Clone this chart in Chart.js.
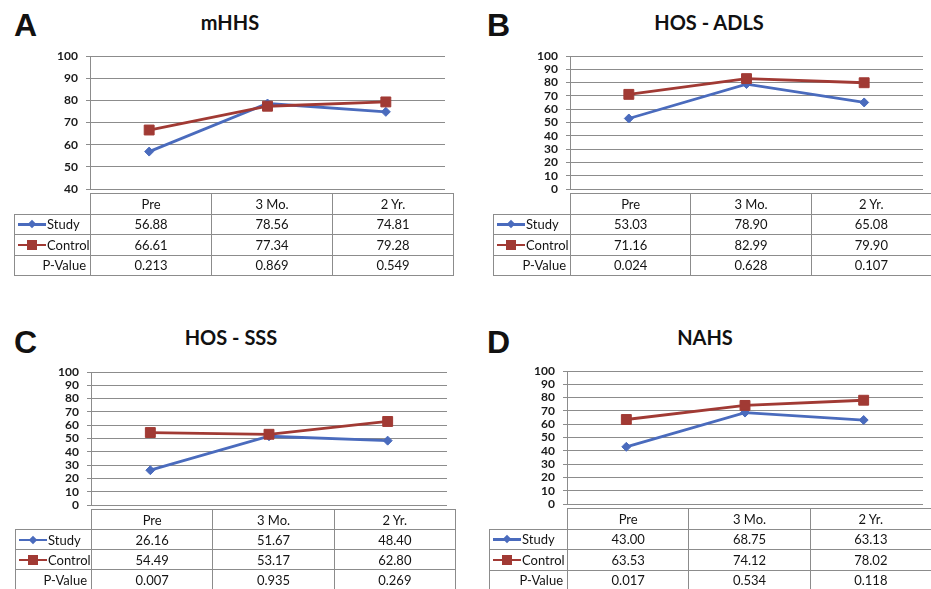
<!DOCTYPE html>
<html>
<head>
<meta charset="utf-8">
<script src="https://cdn.jsdelivr.net/npm/chart.js@4"></script>
<style>
  html, body { margin: 0; padding: 0; background: #fff; }
  #page { position: relative; width: 931px; height: 589px; overflow: hidden; font-family: Lato, "Open Sans", sans-serif; color: #141414; }
  .letter { position: absolute; font: bold 32px "Liberation Sans", Arial, sans-serif; line-height: 32px; color: #111; }
  .title { position: absolute; font: bold 20px Lato, sans-serif; line-height: 20px; color: #111; text-align: center; white-space: nowrap; }
  canvas { position: absolute; }
  .cell { position: absolute; box-sizing: border-box; border: 1px solid #8c8c8c; font-size: 13px; display: flex; align-items: center; justify-content: center; white-space: nowrap; }
  .cell.name { justify-content: flex-start; padding-left: 3px; }
  .cell.pv { justify-content: flex-end; padding-right: 4px; }
  .key { position: relative; display: inline-block; width: 28px; height: 10px; margin-right: 1px; }
  .key .ln { position: absolute; left: 0; right: 0; top: 4px; height: 2.5px; }
  .key .mk { position: absolute; }
</style>
</head>
<body>
<div id="page"></div>
<script>
// categories and series names
const categories = ['Pre', '3 Mo.', '2 Yr.'];
const seriesNames = ['Study', 'Control'];

// mHHS
const mhhsStudy = [56.88, 78.56, 74.81];
const mhhsControl = [66.61, 77.34, 79.28];
const mhhsP = ['0.213', '0.869', '0.549'];
const mhhsTicks = [40, 50, 60, 70, 80, 90, 100];

// HOS - ADLS
const adlsStudy = [53.03, 78.90, 65.08];
const adlsControl = [71.16, 82.99, 79.90];
const adlsP = ['0.024', '0.628', '0.107'];

// HOS - SSS
const sssStudy = [26.16, 51.67, 48.40];
const sssControl = [54.49, 53.17, 62.80];
const sssP = ['0.007', '0.935', '0.269'];

// NAHS
const nahsStudy = [43.00, 68.75, 63.13];
const nahsControl = [63.53, 74.12, 78.02];
const nahsP = ['0.017', '0.534', '0.118'];

const fullTicks = [0, 10, 20, 30, 40, 50, 60, 70, 80, 90, 100];

const blue = '#4a6bbd';
const red = '#a13a34';
const gridColor = '#8c8c8c';

const panels = [
  { letter: 'A', title: 'mHHS', study: mhhsStudy, control: mhhsControl, pv: mhhsP, ticks: mhhsTicks,
    letterX: 14, letterY: 9, titleX: 230, titleY: 12,
    axisX: 90, top: 52, right: 453, bottom: 193, tableLeft: 14, rowH: 20.5 },
  { letter: 'B', title: 'HOS - ADLS', study: adlsStudy, control: adlsControl, pv: adlsP, ticks: fullTicks,
    letterX: 487, letterY: 9, titleX: 709, titleY: 12,
    axisX: 570, top: 52, right: 931, bottom: 193, tableLeft: 493, rowH: 20.5 },
  { letter: 'C', title: 'HOS - SSS', study: sssStudy, control: sssControl, pv: sssP, ticks: fullTicks,
    letterX: 14, letterY: 326, titleX: 231, titleY: 327,
    axisX: 91, top: 368, right: 455, bottom: 509, tableLeft: 15, rowH: 20 },
  { letter: 'D', title: 'NAHS', study: nahsStudy, control: nahsControl, pv: nahsP, ticks: fullTicks,
    letterX: 487, letterY: 326, titleX: 705, titleY: 327,
    axisX: 567, top: 367, right: 931, bottom: 508, tableLeft: 489, rowH: 20.5 }
];

const page = document.getElementById('page');

function addDiv(cls, css, html) {
  const d = document.createElement('div');
  d.className = cls;
  Object.assign(d.style, css);
  if (html !== undefined) d.innerHTML = html;
  page.appendChild(d);
  return d;
}

function keyHtml(color, isDiamond) {
  const mk = isDiamond
    ? `<span class="mk" style="left:11px;top:2px;width:6px;height:6px;background:${color};transform:rotate(45deg)"></span>`
    : `<span class="mk" style="left:9px;top:0px;width:10px;height:10px;background:${color}"></span>`;
  return `<span class="key"><span class="ln" style="background:${color}"></span>${mk}</span>`;
}

function buildTable(p) {
  const w = (p.right - p.axisX) / 3;
  const xs = [p.tableLeft, p.axisX, p.axisX + w, p.axisX + 2 * w, p.right];
  const rows = [
    { name: null, vals: categories },
    { name: keyHtml(blue, true) + seriesNames[0], cls: 'name', vals: p.study.map(v => v.toFixed(2)) },
    { name: keyHtml(red, false) + seriesNames[1], cls: 'name', vals: p.control.map(v => v.toFixed(2)) },
    { name: 'P-Value', cls: 'pv', vals: p.pv }
  ];
  rows.forEach((r, ri) => {
    const y0 = p.bottom + ri * p.rowH;
    const cellCss = (c) => ({
      left: xs[c] + 'px', top: y0 + 'px',
      width: (xs[c + 1] - xs[c] + 1) + 'px', height: (p.rowH + 1) + 'px'
    });
    if (r.name !== null) addDiv('cell ' + r.cls, cellCss(0), r.name);
    r.vals.forEach((v, ci) => addDiv('cell', cellCss(ci + 1), v));
  });
}

panels.forEach(p => {
  addDiv('letter', { left: p.letterX + 'px', top: p.letterY + 'px' }, p.letter);
  addDiv('title', { left: (p.titleX - 100) + 'px', width: '200px', top: p.titleY + 'px' }, p.title);

  const yAxisW = 50;
  const pad = 10;
  const canvas = document.createElement('canvas');
  canvas.width = Math.round(p.right - p.axisX + yAxisW);
  canvas.height = Math.round(p.bottom - p.top + 2 * pad);
  canvas.style.left = (p.axisX - yAxisW) + 'px';
  canvas.style.top = (p.top - pad) + 'px';
  page.appendChild(canvas);

  const tickVals = p.ticks;
  new Chart(canvas.getContext('2d'), {
    type: 'line',
    data: {
      labels: categories,
      datasets: [
        {
          label: seriesNames[0],
          data: p.study,
          borderColor: blue,
          backgroundColor: blue,
          borderWidth: 2.8,
          pointStyle: 'rectRot',
          pointRadius: 4.5,
          pointBorderWidth: 1,
          tension: 0,
          order: 1
        },
        {
          label: seriesNames[1],
          data: p.control,
          borderColor: red,
          backgroundColor: red,
          borderWidth: 2.8,
          pointStyle: 'rect',
          pointRadius: 7,
          pointBorderWidth: 1,
          tension: 0,
          order: 0
        }
      ]
    },
    options: {
      responsive: false,
      animation: false,
      devicePixelRatio: 1,
      layout: { padding: { top: pad, bottom: pad, left: 0, right: 0 } },
      plugins: { legend: { display: false }, title: { display: false }, tooltip: { enabled: false } },
      scales: {
        x: {
          display: false,
          offset: true
        },
        y: {
          min: tickVals[0],
          max: tickVals[tickVals.length - 1],
          afterBuildTicks: s => { s.ticks = tickVals.map(v => ({ value: v })); },
          afterFit: s => { s.width = yAxisW; },
          border: { display: true, color: gridColor, width: 1 },
          grid: { color: gridColor, lineWidth: 1, drawTicks: true, tickLength: 4 },
          ticks: {
            autoSkip: false,
            padding: 8,
            color: '#1a1a1a',
            font: { family: 'Lato', size: 12, weight: 'bold', lineHeight: 1 }
          }
        }
      }
    }
  });

  buildTable(p);
});
</script>
</body>
</html>
